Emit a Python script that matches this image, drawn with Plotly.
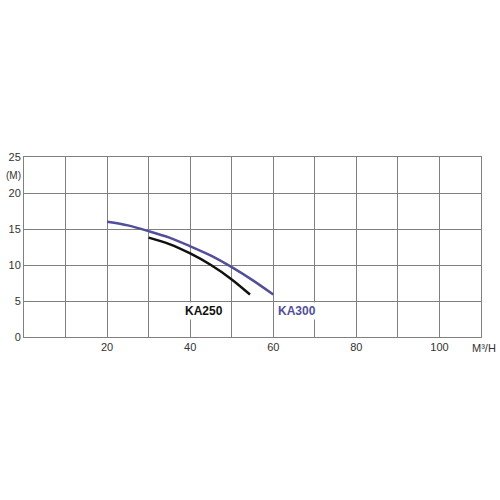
import plotly.graph_objects as go

# Data
ka300_flow = [20, 25, 30, 35, 40, 45, 50, 55, 60]
ka300_head = [16.0, 15.5, 14.7, 13.8, 12.6, 11.3, 9.7, 7.9, 5.9]
ka250_flow = [30, 35, 40, 45, 50, 54.4]
ka250_head = [13.8, 12.9, 11.6, 10.0, 8.0, 5.9]

x_ticks = [20, 40, 60, 80, 100]
y_ticks = [0, 5, 10, 15, 20, 25]

PURPLE = "#524f98"
GRID = "#808080"
FONT = "Liberation Sans, Arial, sans-serif"

fig = go.Figure()
fig.add_trace(go.Scatter(x=ka300_flow, y=ka300_head, mode="lines", line=dict(color=PURPLE, width=2.5, shape="spline", smoothing=0.8), name="KA300"))
fig.add_trace(go.Scatter(x=ka250_flow, y=ka250_head, mode="lines", line=dict(color="#111111", width=2.5, shape="spline", smoothing=0.8), name="KA250"))

fig.update_xaxes(range=[0, 110], tickvals=x_ticks, showgrid=True, gridcolor=GRID, gridwidth=1,
                 minor=dict(dtick=10, tick0=0, showgrid=True, gridcolor=GRID, gridwidth=1),
                 showline=True, linecolor=GRID, mirror=True, zeroline=False, ticks="", automargin=False,
                 tickfont=dict(family=FONT, size=11, color="#333"))
fig.update_yaxes(range=[0, 25], tickvals=y_ticks, showgrid=True, gridcolor=GRID, gridwidth=1,
                 showline=True, linecolor=GRID, mirror=True, zeroline=False, ticks="", automargin=False,
                 tickfont=dict(family=FONT, size=11, color="#333"))

fig.add_annotation(x=0, y=22.5, xref="paper", yref="y", text="(M)", showarrow=False,
                   xanchor="right", xshift=-1, font=dict(family=FONT, size=10, color="#333"))
fig.add_annotation(x=1, y=0, xref="paper", yref="paper", text="M³/H", showarrow=False,
                   xanchor="center", yanchor="top", yshift=-3, xshift=3, font=dict(family=FONT, size=11, color="#333"))
fig.add_annotation(x=43.4, y=3.6, text="<b>KA250</b>", showarrow=False, bgcolor="white",
                   font=dict(family=FONT, size=12, color="#111"))
fig.add_annotation(x=65.7, y=3.6, text="<b>KA300</b>", showarrow=False, bgcolor="white",
                   font=dict(family=FONT, size=12, color=PURPLE))

fig.update_layout(width=500, height=500, margin=dict(l=24, r=19, t=157, b=163),
                  plot_bgcolor="white", paper_bgcolor="white", showlegend=False)

fig.write_html("out.html", config={"displayModeBar": False},
               post_script="document.body.style.margin='0';document.body.style.padding='0';")
